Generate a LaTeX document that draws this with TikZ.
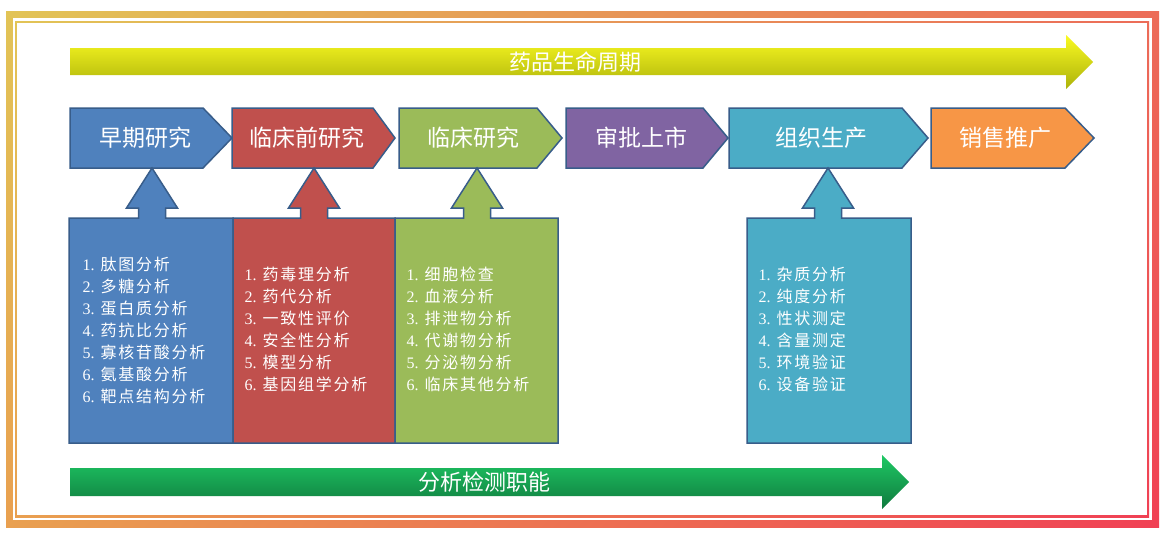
\documentclass[tikz,border=0pt]{standalone}
\usepackage{fontspec}
\setmainfont{Liberation Serif}
\newfontfamily\cjk{Noto Sans CJK SC}
\newfontfamily\cjklist[LetterSpace=11]{Noto Sans CJK SC}
\newcommand{\itm}[2]{#1.\hspace{6pt}{\cjklist #2}}
\usetikzlibrary{shadings}
\definecolor{ppblue}{RGB}{79,129,189}
\definecolor{ppred}{RGB}{192,80,77}
\definecolor{ppgreen}{RGB}{155,187,89}
\definecolor{pppurple}{RGB}{128,100,162}
\definecolor{ppteal}{RGB}{75,172,198}
\definecolor{pporange}{RGB}{247,150,70}
\definecolor{ppline}{RGB}{56,93,138}
\definecolor{frameTL}{RGB}{226,196,86}
\definecolor{frameTR}{RGB}{236,108,88}
\definecolor{frameBL}{RGB}{233,160,80}
\definecolor{frameBR}{RGB}{240,64,84}
\definecolor{lifeTop}{RGB}{250,250,34}
\definecolor{lifeMid}{RGB}{240,240,14}
\definecolor{lifeBot}{RGB}{172,178,10}
\definecolor{anaTop}{RGB}{30,200,100}
\definecolor{anaMid}{RGB}{24,180,88}
\definecolor{anaBot}{RGB}{16,122,62}
\tikzset{
  stage/.style={draw=ppline, line width=1.5pt, line join=miter},
  stagetext/.style={text=white, font=\cjk\fontsize{23}{23}\selectfont},
  listtext/.style={text=white, align=left, anchor=west, font=\fontsize{16}{22}\selectfont},
  bandtext/.style={text=white, font=\cjk\fontsize{22}{22}\selectfont},
  framefill/.style={upper left=frameTL, upper right=frameTR, lower left=frameBL, lower right=frameBR}
}

\begin{document}
\begin{tikzpicture}[x=1pt,y=-1pt]
        \useasboundingbox (0,0) rectangle (1173,538);

        %%FRAME
        % Thick band
        \shade[framefill] (6,11) rectangle (1159,527);
        \fill[white] (13,18) rectangle (1152,520);
        % Thin line
        \shade[framefill] (15,21) rectangle (1149,517);
        \fill[white] (17,23) rectangle (1147,515);

        %%LIFE CYCLE ARROW
        \shade[top color=lifeTop, middle color=lifeMid, bottom color=lifeBot] (70,48) -- (1066,48) -- (1066,35) -- (1093,62) -- (1066,89) -- (1066,75) -- (70,75) -- cycle;

        %%STAGES
        % Early research
        \path[stage, fill=ppblue] (70,108) -- (203,108) -- (232,138) -- (203,168) -- (70,168) -- cycle;
        % Pre-clinical
        \path[stage, fill=ppred] (232,108) -- (373,108) -- (395,138) -- (373,168) -- (232,168) -- cycle;
        % Clinical
        \path[stage, fill=ppgreen] (399,108) -- (537,108) -- (562,138) -- (537,168) -- (399,168) -- cycle;
        % Approval
        \path[stage, fill=pppurple] (566,108) -- (703,108) -- (728,138) -- (703,168) -- (566,168) -- cycle;
        % Production
        \path[stage, fill=ppteal] (729,108) -- (902,108) -- (928,138) -- (902,168) -- (729,168) -- cycle;
        % Sales
        \path[stage, fill=pporange] (931,108) -- (1065,108) -- (1094,138) -- (1065,168) -- (931,168) -- cycle;

        %%CALLOUT BOXES
        % Early research
        \path[stage, fill=ppblue] (69,218) -- (138.5,218) -- (138.5,208) -- (126.5,208) -- (152,168) -- (177.5,208) -- (165.5,208) -- (165.5,218) -- (233,218) -- (233,443) -- (69,443) -- cycle;
        % Pre-clinical
        \path[stage, fill=ppred] (233,218) -- (300.5,218) -- (300.5,208) -- (288.5,208) -- (314,168) -- (339.5,208) -- (327.5,208) -- (327.5,218) -- (395,218) -- (395,443) -- (233,443) -- cycle;
        % Clinical
        \path[stage, fill=ppgreen] (395,218) -- (463.5,218) -- (463.5,208) -- (451.5,208) -- (477,168) -- (502.5,208) -- (490.5,208) -- (490.5,218) -- (558,218) -- (558,443) -- (395,443) -- cycle;
        % Production
        \path[stage, fill=ppteal] (747,218) -- (814.5,218) -- (814.5,208) -- (802.5,208) -- (828,168) -- (853.5,208) -- (841.5,208) -- (841.5,218) -- (911,218) -- (911,443) -- (747,443) -- cycle;

        %%ANALYSIS ARROW
        \shade[top color=anaTop, middle color=anaMid, bottom color=anaBot] (70,468) -- (882,468) -- (882,455) -- (909,482) -- (882,509) -- (882,496) -- (70,496) -- cycle;

        %%LABELS
        \node[bandtext] (lifecycle) at (575,62) {药品生命周期};
        \node[bandtext] (analysis) at (484,482) {分析检测职能};

        \node[stagetext] (early) at (145,138) {早期研究};
        \node[stagetext] (preclin) at (307,138) {临床前研究};
        \node[stagetext] (clinic) at (473,138) {临床研究};
        \node[stagetext] (approve) at (641,138) {审批上市};
        \node[stagetext] (produce) at (821,138) {组织生产};
        \node[stagetext] (sales) at (1005,138) {销售推广};

        \node[listtext] (earlylist) at (79,330.5) {\itm{1}{肽图分析}\\ \itm{2}{多糖分析}\\ \itm{3}{蛋白质分析}\\ \itm{4}{药抗比分析}\\ \itm{5}{寡核苷酸分析}\\ \itm{6}{氨基酸分析}\\ \itm{6}{靶点结构分析}};
        \node[listtext] (preclinlist) at (241,329) {\itm{1}{药毒理分析}\\ \itm{2}{药代分析}\\ \itm{3}{一致性评价}\\ \itm{4}{安全性分析}\\ \itm{5}{模型分析}\\ \itm{6}{基因组学分析}};
        \node[listtext] (cliniclist) at (403,329) {\itm{1}{细胞检查}\\ \itm{2}{血液分析}\\ \itm{3}{排泄物分析}\\ \itm{4}{代谢物分析}\\ \itm{5}{分泌物分析}\\ \itm{6}{临床其他分析}};
        \node[listtext] (producelist) at (755,329) {\itm{1}{杂质分析}\\ \itm{2}{纯度分析}\\ \itm{3}{性状测定}\\ \itm{4}{含量测定}\\ \itm{5}{环境验证}\\ \itm{6}{设备验证}};

\end{tikzpicture}
\end{document}
